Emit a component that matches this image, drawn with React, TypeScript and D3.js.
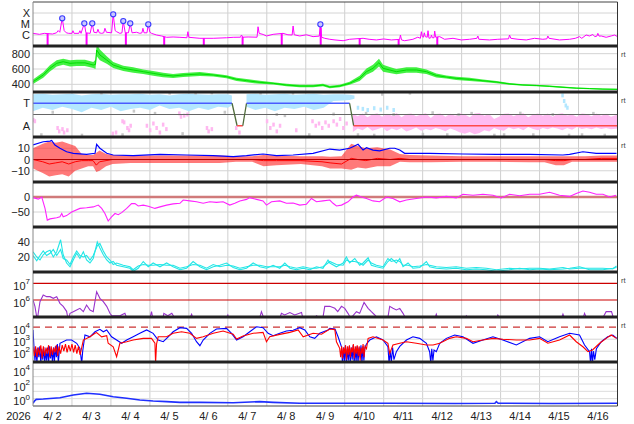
import React from "react";
import * as d3 from "d3";

type P = [number, number];

// ---------------- time axis (hours from 2026-04-02 00:00 UT) ----------------
const yearLabel = "2026";
const dayLabels = ["4/ 2", "4/ 3", "4/ 4", "4/ 5", "4/ 6", "4/ 7", "4/ 8", "4/ 9", "4/10", "4/11", "4/12", "4/13", "4/14", "4/15", "4/16"];
const rtLabel = "rt";

// ---------------- panel 1: X-ray flux (log10 W/m2) ----------------
const xrayFlux: P[] = [
  [0, -5.85], [4, -5.94], [7, -5.85], [12, -5.91], [14.5, -5.8], [15.5, -5.6], [16.5, -5.75], [18, -4.48], [19.2, -5.6], [20.5, -5.8],
  [22, -5.85], [24, -5.85], [24.6, -5.61], [25.3, -5.85], [28.2, -5.85], [28.9, -5.61], [29.6, -5.85], [31.6, -4.94], [32.6, -5.8], [35.2, -5.85],
  [36.5, -4.94], [37.5, -5.75], [39.3, -5.8], [40, -5.48], [40.8, -5.8], [42.3, -5.85], [43.6, -5.8], [44.3, -5.39], [45.2, -5.75], [48.4, -5.8],
  [49.4, -4.12], [50.6, -5.6], [51.5, -5.7], [53.5, -5.85], [54.8, -5.8], [55.6, -4.73], [56.8, -5.8], [58.8, -5.8], [59.9, -4.94], [61, -5.8],
  [63.8, -5.75], [65.8, -5.85], [67.1, -5.8], [67.7, -5.39], [68.4, -5.8], [70.2, -5.8], [71, -5.03], [72, -5.75], [73, -5.85], [76.1, -6.0],
  [79.2, -6.09], [82.3, -6.21], [86.3, -6.18], [90.5, -6.21], [94.8, -6.25], [95.4, -5.7], [96, -6.21], [102.8, -6.3], [111, -6.3], [119.2, -6.25],
  [123.3, -6.21], [127.8, -6.2], [128.4, -6.0], [129.2, -6.2], [132.5, -6.18], [138, -6.2], [138.6, -5.25], [139.3, -5.85], [141.7, -5.95], [143.8, -6.09],
  [147.9, -5.94], [154, -5.85], [157, -5.98], [159.6, -6.0], [160.2, -5.18], [160.9, -5.98], [164.3, -6.09], [168.4, -5.98], [172.5, -6.15], [176.3, -6.1],
  [177, -5.03], [177.8, -6.21], [179.7, -6.3], [182.8, -6.39], [186, -6.45], [191, -6.52], [195, -6.39], [203.3, -6.3], [207, -6.39], [211.5, -6.45],
  [216, -6.36], [220.7, -6.45], [225.8, -6.4], [226.3, -6.0], [227, -6.45], [228.9, -6.52], [234, -6.39], [237, -6.2], [238.6, -6.3], [239.2, -5.7],
  [239.8, -6.15], [240.5, -6.2], [241, -5.8], [241.6, -6.15], [242.8, -6.2], [243.3, -5.61], [243.9, -6.3], [245, -6.25], [245.4, -6.0], [246, -6.25],
  [247, -6.25], [247.4, -5.64], [248, -6.2], [250.5, -6.15], [253.5, -6.39], [258.7, -6.3], [263.8, -6.45], [268.9, -6.39], [273.4, -6.3], [274, -6.09],
  [274.6, -6.39], [281.2, -6.45], [286.3, -6.39], [292.9, -6.35], [293.5, -6.0], [294.3, -6.3], [298.7, -6.39], [303.8, -6.45], [308.9, -6.3], [314, -6.39],
  [316.5, -6.35], [317.1, -6.09], [317.8, -6.3], [324.3, -6.45], [330.5, -6.39], [334, -6.3], [336.6, -6.15], [338, -6.3], [340.7, -6.0], [342.8, -6.09],
  [344.8, -5.95], [346, -6.15], [347.3, -6.1], [347.9, -5.85], [348.6, -6.1], [350, -6.09], [353, -6.21], [356.1, -6.09], [358.2, -6.0], [360, -6.15],
];
const xrayGapH = [9, 33, 57.2, 80.8, 105.2, 129.1, 153.2, 177.2, 201.2, 225.2, 249];
const flareH = [18, 31.6, 36.5, 49.4, 55.6, 59.9, 71, 177];
const flareV = [-4.48, -4.94, -4.94, -4.12, -4.73, -4.94, -5.03, -5.03];
const xrayTicks = [-4, -5, -6];
const xrayTickLabels = ["X", "M", "C"];

// ---------------- panel 2: solar wind speed (km/s) ----------------
const speedH = [0, 6.3, 10.4, 14.6, 18.6, 22.8, 26.9, 32, 37.1, 38.5, 39.2, 41.2, 45.4, 49.4, 55.6, 61.7, 67.9, 74, 80.2, 86.3,
  92.5, 102.8, 111, 119.2, 125.4, 131.5, 139.7, 147.9, 156.1, 164.3, 172.5, 178.6, 182.8, 188.9, 195, 201.2, 205.4, 209.4, 213.1, 215.6,
  219.7, 223.8, 230, 236.1, 242.3, 248.4, 254.6, 260.7, 268.9, 277.1, 285.4, 293.5, 301.7, 309.9, 318, 326.4, 334.6, 342.8, 351, 360];
const speedV = [434, 522, 609, 674, 695, 674, 680, 680, 652, 660, 848, 783, 717, 652, 609, 587, 565, 543, 522, 509,
  522, 535, 522, 500, 465, 448, 426, 413, 391, 378, 378, 391, 365, 378, 413, 478, 565, 609, 683, 609,
  587, 565, 587, 587, 565, 515, 495, 478, 465, 447, 430, 405, 392, 385, 375, 362, 350, 345, 338, 335];
const speedSpread = [30, 35, 40, 40, 40, 40, 40, 40, 40, 60, 80, 70, 50, 40, 35, 35, 30, 30, 30, 25,
  25, 25, 20, 20, 20, 20, 20, 15, 15, 15, 15, 15, 15, 15, 20, 35, 40, 45, 50, 45,
  40, 35, 35, 35, 30, 25, 20, 20, 20, 15, 15, 12, 10, 10, 10, 10, 8, 8, 8, 8];
const speedTicks = [800, 600, 400];

// ---------------- panel 3: IMF sector (T = +0.5, A = -0.5) ----------------
const sectorH = [0, 122.6, 125.7, 129.2, 131.5, 195, 197.5, 360];
const sectorV = [0.5, 0.5, -0.5, -0.5, 0.5, 0.5, -0.5, -0.5];
const towardH1 = [0, 6, 12, 18, 24, 30, 36, 42, 48, 54, 60, 66, 72, 78, 84, 90, 96, 102, 108, 114, 120, 122.5];
const towardLo1 = [0.15, 0.3, 0.2, 0.35, 0.25, 0.1, 0.3, 0.2, 0.35, 0.15, 0.25, 0.3, 0.2, 0.4, 0.25, 0.3, 0.15, 0.3, 0.2, 0.35, 0.3, 0.4];
const towardHi1 = [0.9, 0.92, 0.88, 0.9, 0.92, 0.85, 0.9, 0.92, 0.88, 0.9, 0.9, 0.92, 0.88, 0.9, 0.85, 0.9, 0.92, 0.9, 0.88, 0.9, 0.9, 0.85];
const towardH2 = [131.5, 137, 143, 149, 155, 161, 167, 173, 179, 185, 191, 195, 198];
const towardLo2 = [0.35, 0.2, 0.3, 0.15, 0.3, 0.25, 0.35, 0.2, 0.3, 0.6, 0.62, 0.65, 0.7];
const towardHi2 = [0.9, 0.92, 0.88, 0.9, 0.92, 0.88, 0.9, 0.92, 0.88, 0.9, 0.9, 0.88, 0.85];
const awayH = [197, 200, 203, 206, 209, 212, 215, 218, 221, 224, 227, 230, 233, 236, 239, 242, 245, 248, 251, 254,
  257, 260, 263, 266, 269, 272, 275, 278, 281, 284, 287, 290, 293, 296, 299, 302, 305, 308, 311, 314,
  317, 320, 323, 326, 329, 332, 335, 338, 341, 344, 347, 350, 353, 356, 360];
const awayHi = [0.02, -0.08, 0.05, -0.12, 0.0, 0.06, -0.1, 0.03, -0.05, 0.07, -0.12, 0.02, 0.05, -0.08, 0.0, 0.06, -0.15, 0.02, 0.05, -0.1,
  0.03, -0.06, 0.06, 0.0, -0.12, 0.04, 0.07, -0.05, 0.02, -0.2, -0.1, 0.03, 0.05, -0.08, 0.02, 0.06, -0.12, 0.0, 0.04, -0.06,
  0.05, -0.1, 0.02, 0.06, -0.04, 0.0, -0.1, 0.05, 0.02, -0.08, 0.04, -0.05, 0.03, -0.1, 0.0];
const awayLo = [-0.78, -0.62, -0.7, -0.55, -0.72, -0.66, -0.58, -0.74, -0.62, -0.7, -0.6, -0.76, -0.68, -0.58, -0.72, -0.64, -0.7, -0.6, -0.66, -0.74,
  -0.62, -0.7, -0.8, -0.86, -0.78, -0.88, -0.82, -0.7, -0.75, -0.6, -0.68, -0.72, -0.58, -0.66, -0.6, -0.7, -0.56, -0.64, -0.7, -0.6,
  -0.66, -0.58, -0.62, -0.7, -0.6, -0.68, -0.56, -0.64, -0.6, -0.66, -0.58, -0.64, -0.6, -0.66, -0.62];
const pinkDotH = [0, 1, 15, 16, 18, 19, 21, 49, 51, 55, 56, 58, 59, 60, 70, 72, 74, 76, 78, 80, 82, 90, 91, 93, 95, 107, 108, 110, 125, 127,
  144, 146, 148, 150, 152, 162, 172, 174, 176, 178, 180, 182, 185, 187, 189, 191, 193];
const pinkDotV = [-0.24, -0.3, -0.6, -0.75, -0.65, -0.8, -0.7, -0.85, -0.8, -0.3, -0.35, -0.6, -0.7, -0.5, -0.5, -0.7, -0.4, -0.6, -0.8, -0.45,
  -0.65, 0.05, -0.1, -0.05, 0.0, -0.6, -0.75, -0.65, -0.6, -0.8, -0.3, -0.6, -0.45, -0.75, -0.5, -0.7, -0.3, -0.5, -0.4, -0.6,
  -0.35, -0.5, -0.3, -0.45, -0.2, -0.6, -0.4];
const grayDotH = [5, 12, 30, 42, 55, 62, 75, 84, 92, 100, 110, 118, 140, 150, 155, 160, 170, 185, 200, 205,
  210, 215, 222, 232, 240, 246, 255, 262, 270, 284, 290, 300, 308, 320, 330, 338, 345, 352];
const grayDotV = [-0.9, 0.1, -0.92, 0.95, -0.9, 0.15, 0.05, 0.95, -0.85, 0.95, 0.96, 0.1, 0.95, 0.0, -0.05, 0.95, -0.9, 0.02, -0.9, 0.05,
  -0.92, 0.9, 0.0, 0.95, -0.88, 0.08, -0.9, 0.0, 0.05, -0.92, -0.9, 0.06, -0.9, 0.0, -0.92, -0.9, 0.05, -0.92];
const blueDotH = [200, 203, 206, 210, 214, 218, 222, 326, 327, 328, 329];
const blueDotV = [0.3, 0.25, 0.2, 0.28, 0.22, 0.3, 0.2, 0.85, 0.6, 0.4, 0.3];
const sectorTicks = [0.5, -0.5];
const sectorTickLabels = ["T", "A"];

// ---------------- panel 4: IMF Bt / Bz (nT) ----------------
const btH = [0, 6.3, 10.5, 11.5, 13.5, 16.6, 20.7, 24.8, 33, 38.2, 39.2, 41.2, 45.4, 49.4, 61.7, 78.2, 94.6, 111, 123.3, 131.5,
  141.7, 150, 160.2, 172.5, 182.8, 188.9, 195, 197.1, 200.2, 203.3, 205.4, 209.4, 213.5, 219.7, 222.8, 225.9, 228.9, 244.3, 264.8, 285.4,
  305.9, 326.4, 330.5, 338.7, 346.9, 359.4];
const btV = [12.9, 15.8, 16.4, 17, 12.9, 10, 6.9, 5.5, 4.6, 5.5, 13.5, 10, 5.5, 4, 3.4, 4.6, 4, 3.4, 2.5, 3.4,
  4.9, 3.4, 4, 5.5, 9.3, 8.4, 10, 11.4, 13.5, 8.4, 10.5, 8.4, 7.6, 10, 10, 8.4, 5.5, 5.5, 4.9, 4.6,
  4.6, 4, 4.6, 6.9, 5.5, 5.5];
const bzH = [0, 6, 10, 14, 18, 22, 26, 30, 34, 37, 39, 41, 45, 49, 60, 80, 100, 115, 125, 135, 142, 150, 165, 178, 183, 190,
  196, 200, 205, 212, 220, 226, 232, 245, 264, 285, 306, 315, 322, 327, 332, 340, 350, 360];
const bzMid = [0, -2, -4, -3, -2, -4, -2, -1, -1, -1, -5, -2, -1, 0, 0, 0, 0, 0, 0, 0, -1, -1, -1, -2, -3, -4,
  1, 0, -1, 1, 0, 1, 0, 0, 0, 0, 0, 0, -1, -1, 0, 0, 1, 1];
const bzHi = [10, 14, 16, 15, 16, 14, 12, 5, 4, 4, 6, 8, 5, 4, 3.5, 3.5, 3.5, 3.5, 3, 3, 4, 3.5, 3, 3, 2.5, 3,
  14, 12, 10, 11, 9, 5, 4, 3.5, 3, 3, 3, 3, 3, 3, 3, 3, 3.5, 3.5];
const bzLo = [-8, -12, -15, -14, -13, -15, -10, -8, -6, -6, -11, -10, -6, -4, -3, -3, -3, -3, -2, -2, -6, -5, -4, -6, -8, -8,
  -9, -7, -8, -6, -6, -2, -2.5, -2.5, -2, -2, -2.5, -2.5, -5, -5, -2, -2, -2, -2];
const imfTicks = [10, 0, -10];

// ---------------- panel 5: Dst (nT) ----------------
const dstH = [0, 3.3, 5.4, 7.4, 8.8, 10.5, 14.6, 16.6, 17.7, 18.6, 20.7, 23.8, 28.9, 33, 37.1, 40.2, 42.3, 44.3, 46.3, 48.4,
  50.5, 52.5, 54.6, 57.7, 60.7, 62.8, 64.8, 67.9, 71, 75.1, 78.2, 82.3, 86.3, 90.5, 92.5, 96.6, 100.7, 104.8, 108.9, 113,
  117.1, 121.2, 124.3, 127.4, 131.5, 133.5, 137.7, 141.7, 143.8, 146.9, 152, 156.1, 160.2, 164.3, 168.4, 171.5, 174.6, 178.6, 182.8,
  184.8, 186.9, 190, 194, 197.1, 199.2, 202.3, 205.4, 209.4, 213.5, 217.7, 221.7, 225.9, 230, 236.1, 242.3, 248.4, 254.6, 260.7, 264.8,
  271, 277.1, 283.3, 288.4, 293.5, 299.7, 305.9, 312, 318.2, 324.3, 330.5, 334.6, 338.7, 342.8, 346.9, 351, 355.1, 359.2];
const dstV = [-2, -7, 0, -38, -77, -73, -69, -66, -55, -66, -62, -50, -38, -36, -33, -27, -38, -55, -80, -66,
  -55, -59, -52, -38, -22, -22, -30, -27, -31, -38, -33, -27, -23, -21, -10, -13, -16, -21, -16, -18,
  -16, -27, -21, -13, -8, -2, -8, -13, -27, -16, -13, -21, -20, -27, -24, -5, -16, -13, -10,
  -21, -30, -27, -16, 0, 6, 0, -5, -13, -16, 0, -5, -16, -10, -5, 0, -3, 2, -3, 9,
  6, 9, 6, -3, 9, 4, 9, 9, 16, 6, 2, 12, 20, 16, 9, 9, 0, 6];
const dstTicks = [0, -50];

// ---------------- panel 6: cyan pair ----------------
const cyanH = [0, 2.3, 4.3, 6.3, 8.4, 10.5, 12.5, 14.6, 17, 18.6, 20.7, 22.8, 24.8, 26.9, 28.9, 31, 33, 35.1, 37.1, 39.6,
  41.2, 43.3, 45.4, 47.4, 49.4, 51.5, 55.6, 59.7, 61.7, 64.8, 67.9, 71, 74, 78.2, 82.3, 86.3, 90.5, 94.6, 98.6, 102.8,
  106.9, 111, 115.1, 119.2, 123.3, 127.4, 131.5, 135.6, 139.7, 143.8, 147.9, 152, 155.1, 158.2, 162.3, 166.3, 170.5, 174.6, 178.6, 181.7,
  182.8, 186.9, 191, 193, 195, 198.2, 201.2, 203.3, 206.4, 208.4, 211.5, 215.6, 218.6, 220.7, 223.8, 225.9, 227.9, 231, 234, 238.2,
  242.3, 244.3, 248.4, 254.6, 260.7, 266.9, 273, 279.2, 285.4, 293.5, 299.7, 305.9, 312, 318.2, 326.4, 330.5, 336.6, 342.8, 351, 357.1, 359.4];
const cyanA = [27, 20, 16, 23, 27, 29, 20, 27, 43, 23, 12, 7, 16, 25, 18, 27, 16, 12, 18, 40,
  32, 23, 16, 12, 14, 9, 7, 5, 1, 5, 14, 7, 12, 7, 12, 7, 3, 5, 14, 7,
  3, 7, 9, 12, 6, 3, 5, 12, 7, 5, 9, 5, 12, 5, 3, 5, 3, 7, 5, 16,
  12, 7, 12, 20, 12, 18, 9, 12, 19, 9, 7, 5, 14, 18, 12, 18, 7, 12, 5, 6,
  14, 7, 5, 4, 5, 3, 4, 3, 1, 3, 5, 3, 4, 3, 4, 5, 7, 3, 3, 5, 6];
const cyanB = [22, 15, 22, 28, 22, 25, 30, 22, 30, 18, 16, 10, 20, 28, 22, 20, 22, 16, 22, 35,
  38, 28, 20, 16, 10, 12, 9, 7, 3, 8, 10, 9, 9, 10, 9, 9, 5, 7, 10, 9,
  5, 10, 7, 9, 8, 5, 7, 9, 9, 7, 7, 7, 9, 7, 5, 7, 5, 5, 7, 12,
  14, 10, 9, 16, 14, 14, 12, 9, 16, 12, 9, 7, 18, 14, 16, 14, 9, 9, 7, 8,
  10, 9, 7, 6, 7, 5, 6, 5, 3, 5, 4, 5, 5, 4, 6, 4, 5, 5, 5, 4, 8];
const cyanTicks = [40, 20];

// ---------------- panel 7: electron flux (log10) ----------------
const elecFlux: P[] = [
  [0, 6.0], [1.2, 5.62], [2.6, 4.8], [4.3, 5.9], [6.3, 6.3], [8.4, 6.2], [10.5, 6.2], [12.5, 6.1], [14.6, 6.2], [16.6, 5.8],
  [18.6, 5.62], [20.7, 5.32], [21.7, 4.8], [22.8, 5.2], [24.8, 5.3], [26.9, 5.4], [28.9, 5.5], [31, 5.3], [33, 5.7], [35.1, 5.4],
  [37.1, 5.3], [39.2, 6.5], [40.2, 6.3], [41.2, 6.1], [43.3, 5.9], [45.4, 5.62], [47.4, 5.2], [48.6, 5.05], [53.5, 5.05], [56.6, 5.2],
  [57.8, 4.9], [72, 4.9], [73, 5.3], [73.8, 4.9], [80, 4.9], [80.6, 5.2], [83, 5.05], [85.5, 5.2], [87.4, 4.9], [96.5, 4.9],
  [97.7, 5.15], [98.5, 4.9], [119, 4.9], [120, 5.1], [120.6, 4.9], [139.5, 4.9], [140.7, 5.3], [142.2, 4.9], [152, 4.9], [153, 5.2],
  [155, 5.1], [158.2, 5.25], [161.2, 5.1], [165.4, 5.25], [166.2, 4.9], [173.5, 4.9], [174.6, 5.05], [176.6, 4.9], [178.5, 4.9], [179.7, 5.62],
  [182.8, 5.62], [185.9, 5.5], [187.7, 5.3], [190, 5.62], [192, 5.5], [194, 5.2], [195.7, 4.9], [199.2, 5.3], [201.2, 5.2], [203.9, 5.85],
  [206.4, 5.5], [208.4, 5.3], [210.5, 5.1], [212.3, 4.9], [218.5, 4.9], [219.7, 5.62], [221.7, 5.5], [223.8, 5.4], [225.9, 5.5], [227.9, 5.2],
  [229.5, 4.9], [247.5, 4.9], [248.4, 5.15], [249.2, 4.9], [266, 4.9], [266.9, 5.05], [267.7, 4.9], [285.5, 4.9], [286.3, 5.1], [287.4, 4.9],
  [325.5, 4.9], [326.4, 5.15], [327.4, 4.9], [338.8, 4.9], [339.7, 5.2], [341, 4.9], [350.8, 4.9], [353, 5.3], [356.3, 5.3], [357.6, 4.9], [360, 4.9],
];
const elecRefLines = [7, 6];
const elecTicks = [7, 6];

// ---------------- panel 8: pair (log10) ----------------
const pairBlue: P[] = [
  [0, 3.77], [0.6, 2.37], [1.2, 1.2], [1.8, 2.2], [2.4, 1.0], [3, 2.3], [3.6, 1.5], [4.2, 2.4], [4.8, 1.0], [5.4, 2.2],
  [6, 1.3], [6.6, 2.35], [7.2, 1.0], [7.8, 2.0], [8.4, 1.2], [9, 2.3], [9.6, 1.0], [10.2, 2.4], [10.8, 1.4], [11.4, 2.2],
  [12, 1.0], [12.6, 2.3], [13.2, 1.1], [13.8, 2.4], [14.4, 1.5], [15, 2.6], [15.6, 1.0], [16.6, 2.66], [20.7, 2.93], [23.8, 2.93],
  [26.9, 2.66], [28.9, 2.24], [30, 1.0], [30.6, 2.0], [32, 3.35], [35.1, 3.2], [38.2, 3.62], [41.2, 3.82], [43.3, 3.62], [45.4, 3.77],
  [48.4, 3.2], [51.5, 2.93], [54.6, 2.66], [57.7, 2.93], [61.7, 3.2], [65.8, 3.49], [70, 3.77], [74, 3.49], [77.1, 2.93], [80.2, 2.79],
  [83.3, 3.2], [86.3, 3.62], [90.5, 3.96], [94.6, 3.9], [97.7, 3.49], [100.7, 2.79], [102.8, 2.46], [104.8, 2.93], [108.9, 3.49], [113, 3.85],
  [119.2, 3.9], [122.3, 3.49], [125.4, 2.93], [129.4, 3.2], [133.5, 3.62], [137.7, 4.04], [141.7, 3.96], [144.8, 3.49], [147.9, 3.29], [152, 3.49],
  [156.1, 3.68], [160.2, 3.75], [164.3, 3.96], [167.4, 3.77], [170.5, 3.2], [173.5, 3.07], [176.6, 3.49], [181.7, 3.77], [182.8, 3.9], [186, 3.85],
  [187.9, 3.2], [190, 2.37], [190.6, 1.0], [191.2, 2.3], [191.8, 1.1], [192.4, 2.5], [193, 1.0], [193.6, 2.2], [194.2, 1.2], [194.8, 2.4],
  [195.4, 1.0], [196, 2.3], [196.6, 1.3], [197.2, 2.5], [197.8, 1.0], [198.4, 2.2], [199, 1.1], [199.6, 2.4], [200.2, 1.0], [200.8, 2.3],
  [201.4, 1.5], [202, 2.5], [202.6, 1.0], [203.2, 2.4], [203.8, 1.2], [204.4, 2.3], [205.4, 2.6], [207.4, 2.93], [211.5, 3.2], [215.6, 2.93],
  [218.6, 2.37], [219.3, 1.0], [220, 2.0], [220.7, 1.1], [221.5, 2.3], [222.3, 1.3], [223.8, 1.96], [225.9, 2.4], [230, 2.93], [234, 3.2],
  [238.2, 3.07], [242.3, 2.66], [244.3, 1.96], [245, 1.0], [245.6, 2.2], [246.3, 1.2], [247, 2.1], [248.4, 1.96], [250.5, 2.66], [254.6, 3.07],
  [259.7, 3.35], [264.8, 3.2], [271, 2.66], [277.1, 2.93], [283.3, 3.2], [289.4, 2.93], [297.7, 2.52], [305.9, 3.07], [312, 3.2], [317.1, 2.79],
  [324.3, 3.2], [330.5, 3.49], [336.6, 3.35], [339.7, 2.52], [342.8, 1.96], [343.4, 1.0], [344, 2.2], [344.6, 1.0], [345.2, 2.0], [346, 1.3],
  [347, 2.2], [350, 2.79], [354, 3.2], [357.1, 3.35], [359.6, 3.07],
];
const pairRed: P[] = [
  [0, 2.37], [0.8, 1.6], [1.6, 2.4], [2.4, 1.5], [3.2, 2.3], [4, 1.7], [4.8, 2.5], [5.6, 1.4], [6.4, 2.4], [7.2, 1.6],
  [8, 2.3], [8.8, 1.8], [9.6, 2.5], [10.4, 1.5], [11.2, 2.4], [12, 1.7], [12.8, 2.3], [13.6, 1.9], [14.4, 2.5], [15.2, 1.6],
  [16, 2.4], [17, 1.8], [18, 2.5], [19, 2.0], [20, 2.6], [21, 1.9], [22, 2.5], [23, 2.0], [24, 2.6], [25, 1.9],
  [26, 2.5], [27, 1.8], [28, 2.4], [29, 1.7], [30, 2.3], [31, 2.93], [35.1, 3.2], [38.2, 3.49], [39.2, 3.55], [42.3, 3.2],
  [45.4, 3.3], [46.3, 2.66], [49.4, 2.37], [51.5, 1.54], [53.5, 2.66], [57.7, 2.79], [61.7, 2.93], [67.9, 3.07], [73, 3.07], [75.1, 2.66],
  [75.5, 1.0], [76.1, 2.6], [77.1, 3.2], [82.3, 3.2], [86.3, 3.49], [91.5, 3.62], [96.6, 3.49], [100.7, 3.07], [104.8, 3.2], [111, 3.49],
  [117.1, 3.68], [123.3, 3.41], [125.4, 3.02], [129.4, 3.27], [135.6, 3.49], [141.7, 3.57], [143.8, 2.79], [145.8, 3.2], [152, 3.4], [158.2, 3.57],
  [163.3, 3.77], [166.4, 3.2], [172.5, 3.49], [177.7, 3.41], [182.8, 3.85], [185.9, 3.8], [186.9, 2.79], [188.9, 2.24], [189.5, 1.5], [190.1, 2.4],
  [190.7, 1.4], [191.3, 2.3], [191.9, 1.8], [192.5, 2.5], [193.1, 1.3], [193.7, 2.4], [194.3, 1.7], [194.9, 2.5], [195.5, 1.5], [196.1, 2.3],
  [196.7, 1.9], [197.3, 2.6], [197.9, 1.4], [198.5, 2.4], [199.1, 1.8], [199.7, 2.5], [200.3, 1.6], [200.9, 2.4], [201.5, 1.2], [202.1, 2.3],
  [202.7, 1.8], [203.3, 2.6], [203.9, 1.5], [204.5, 2.4], [205.4, 2.2], [206.4, 3.07], [209.4, 3.2], [215.6, 2.93], [218.6, 2.66], [219.7, 1.82],
  [221.7, 2.52], [225.9, 2.66], [230, 2.79], [236.1, 2.66], [242.3, 2.52], [246.4, 2.52], [250.5, 2.66], [256.6, 3.07], [260.7, 3.2], [266.9, 3.07],
  [271, 2.79], [277.1, 2.93], [283.3, 3.07], [289.4, 3.0], [297.7, 2.93], [305.9, 2.93], [312, 3.07], [317.1, 2.66], [324.3, 2.93], [330.5, 3.35],
  [334.6, 2.79], [338.7, 2.37], [341.8, 1.96], [344.6, 2.1], [349, 2.66], [353, 3.07], [356.1, 3.35], [359.4, 3.07],
];
const pairThreshold = 4;
const pairTicks = [4, 3, 2];

// ---------------- panel 9: low-level flux (log10) ----------------
const lowH = [0, 1, 2, 6.3, 16.6, 24.8, 33, 41.2, 49.4, 57.7, 65.8, 74, 82.3, 90.5, 102.8, 123.3, 139.7, 147.9, 164.3, 182.8,
  220, 260, 284.5, 285.4, 286.5, 320, 360];
const lowV = [-0.63, -0.3, -0.1, -0.05, 0.13, 0.5, 0.73, 0.6, 0.27, 0.05, -0.18, -0.32, -0.41, -0.5, -0.5, -0.55, -0.41, -0.5, -0.63, -0.63,
  -0.63, -0.65, -0.63, -0.4, -0.63, -0.65, -0.63];
const lowTicks = [4, 2, 0];

// ---------------------------------------------------------------------------
const FONT = "'Liberation Sans', Arial, Helvetica, sans-serif";

export default function App() {
  const L = 33;
  const R = 617.5;
  const tops = [2, 46, 92, 137, 182, 227, 272, 317, 362];
  const bottomY = 406;
  const x = d3.scaleLinear().domain([0, 360]).range([L, R]);

  const yXr = d3.scaleLinear().domain([-7, -3]).range([46, 2]);
  const ySw = d3.scaleLinear().domain([300, 900]).range([92, 46]);
  const ySec = d3.scaleLinear().domain([-1, 1]).range([137, 92]);
  const yImf = d3.scaleLinear().domain([-20, 20]).range([182, 137]);
  const yDst = d3.scaleLinear().domain([-100, 50]).range([227, 182]);
  const yCy = d3.scaleLinear().domain([0, 60]).range([272, 227]);
  const yEl = d3.scaleLinear().domain([4.98, 7.68]).range([317, 272]);
  const yPr = d3.scaleLinear().domain([1.1, 4.85]).range([362, 317]);
  const yLo = d3.scaleLinear().domain([-1, 5]).range([406, 362]);

  const zip = (h: number[], v: number[]): P[] => h.map((t, i) => [t, v[i]] as P);
  const linePath = (ys: d3.ScaleLinear<number, number>, pts: P[]) =>
    d3.line<P>().x((d) => x(d[0])).y((d) => ys(d[1]))(pts) ?? "";
  const bandPath = (ys: d3.ScaleLinear<number, number>, h: number[], lo: number[], hi: number[]) =>
    d3.area<number>().x((t) => x(t)).y0((_, i) => ys(lo[i])).y1((_, i) => ys(hi[i]))(h) ?? "";

  const xrayAt = d3.scaleLinear().domain(xrayFlux.map((d) => d[0])).range(xrayFlux.map((d) => d[1]));
  const midnights = d3.range(24, 360, 24);

  const leftLabel = (y: number, text: string, key: string) => (
    <text key={key} x={30} y={y} textAnchor="end" dominantBaseline="central" fontSize={11} fill="#222" fontFamily={FONT}>
      {text}
    </text>
  );
  const supLabel = (y: number, exp: number, key: string) => (
    <text key={key} x={30} y={y + 2.5} textAnchor="end" dominantBaseline="central" fontSize={11} fill="#222" fontFamily={FONT}>
      10<tspan fontSize={8} dy={-4.5}>{exp}</tspan>
    </text>
  );
  const hGrid = (ys: d3.ScaleLinear<number, number>, vals: number[], key: string, color = "#d4d4d4") =>
    vals.map((v, i) => <line key={key + i} x1={L} x2={R} y1={ys(v)} y2={ys(v)} stroke={color} strokeWidth={1} />);

  const speedLo = speedV.map((v, i) => v - speedSpread[i]);
  const speedHi = speedV.map((v, i) => v + speedSpread[i]);

  const sectorSegs = sectorH.slice(1).map((t, i) => {
    const a = sectorV[i];
    const b = sectorV[i + 1];
    const color = a !== b ? "#4f6a3a" : a > 0 ? "#4a5cff" : "#ff4a4a";
    return { d: linePath(ySec, [[sectorH[i], a], [t, b]]), color };
  });

  return (
    <svg width={634} height={424} style={{ position: "absolute", left: 0, top: 0, background: "#fff" }}>
      <defs>
        {tops.map((t, i) => (
          <clipPath id={"clip" + i} key={i}>
            <rect x={L} y={t} width={R - L} height={(tops[i + 1] ?? bottomY) - t} />
          </clipPath>
        ))}
      </defs>
      <rect x={0} y={0} width={634} height={424} fill="#fff" />

      {/* vertical day grid */}
      {midnights.map((h) => (
        <line key={"vg" + h} x1={x(h)} x2={x(h)} y1={2} y2={bottomY} stroke="#cfcfcf" strokeWidth={1} />
      ))}

      {/* horizontal grids */}
      {hGrid(yXr, xrayTicks, "gx")}
      {hGrid(ySw, speedTicks, "gs")}
      {hGrid(yImf, [10, -10], "gi")}
      {hGrid(yDst, [-50], "gd")}
      {hGrid(yCy, cyanTicks, "gc")}
      {hGrid(yPr, [3, 2], "gp")}
      {hGrid(yLo, [0, 1, 2, 3, 4], "gl", "#dcdcdc")}

      {/* panel 1: X-ray */}
      <g clipPath="url(#clip0)">
        {xrayGapH.map((h) => (
          <line key={"gap" + h} x1={x(h)} x2={x(h)} y1={yXr(xrayAt(h))} y2={48} stroke="#ff00ff" strokeWidth={2} />
        ))}
        <path d={linePath(yXr, xrayFlux)} fill="none" stroke="#ff00ff" strokeWidth={1} />
        {flareH.map((h, i) => (
          <circle key={"fl" + i} cx={x(h)} cy={yXr(flareV[i])} r={2.6} fill="#c8c8ff" stroke="#3a3aff" strokeWidth={1.1} />
        ))}
      </g>

      {/* panel 2: solar wind speed */}
      <g clipPath="url(#clip1)">
        <path d={bandPath(ySw, speedH, speedLo, speedHi)} fill="#22ee22" opacity={0.85} />
        <path d={linePath(ySw, zip(speedH, speedV))} fill="none" stroke="#00dd00" strokeWidth={1} />
      </g>

      {/* panel 3: IMF sector */}
      <g clipPath="url(#clip2)">
        <path d={bandPath(ySec, towardH1, towardLo1, towardHi1)} fill="#b3e7ff" />
        <path d={bandPath(ySec, towardH2, towardLo2, towardHi2)} fill="#b3e7ff" />
        <path d={bandPath(ySec, awayH, awayLo, awayHi)} fill="#ffbcf2" />
        {pinkDotH.map((h, i) => (
          <rect key={"pd" + i} x={x(h) - 1} y={ySec(pinkDotV[i]) - 2} width={2.5} height={4} fill="#ffb8f0" />
        ))}
        {blueDotH.map((h, i) => (
          <rect key={"bd" + i} x={x(h) - 1} y={ySec(blueDotV[i]) - 2} width={2.5} height={4} fill="#b3e7ff" />
        ))}
        {grayDotH.map((h, i) => (
          <rect key={"gd" + i} x={x(h) - 1} y={ySec(grayDotV[i]) - 1.5} width={2.5} height={3} fill="#c8c8c8" />
        ))}
        <line x1={L} x2={R} y1={ySec(0)} y2={ySec(0)} stroke="#666" strokeWidth={1} />
        {sectorSegs.map((s, i) => (
          <path key={"sg" + i} d={s.d} fill="none" stroke={s.color} strokeWidth={1.3} />
        ))}
      </g>

      {/* panel 4: IMF */}
      <g clipPath="url(#clip3)">
        <path d={bandPath(yImf, bzH, bzLo, bzHi)} fill="#ff2020" opacity={0.6} />
        <path d={linePath(yImf, zip(bzH, bzMid))} fill="none" stroke="#ff0000" strokeWidth={1} />
        <line x1={L} x2={R} y1={yImf(0)} y2={yImf(0)} stroke="#b00000" strokeWidth={1.2} />
        <path d={linePath(yImf, zip(btH, btV))} fill="none" stroke="#0000ff" strokeWidth={1.2} />
      </g>

      {/* panel 5: Dst */}
      <g clipPath="url(#clip4)">
        <line x1={L} x2={R} y1={yDst(0)} y2={yDst(0)} stroke="#d07a7a" strokeWidth={2.5} />
        <path d={linePath(yDst, zip(dstH, dstV))} fill="none" stroke="#ff22ff" strokeWidth={1.1} />
      </g>

      {/* panel 6: cyan pair */}
      <g clipPath="url(#clip5)">
        <path d={linePath(yCy, zip(cyanH, cyanB))} fill="none" stroke="#22e6e6" strokeWidth={1.1} />
        <path d={linePath(yCy, zip(cyanH, cyanA))} fill="none" stroke="#22e6e6" strokeWidth={1.1} />
      </g>

      {/* panel 7: electrons */}
      <g clipPath="url(#clip6)">
        {elecRefLines.map((v) => (
          <line key={"er" + v} x1={L} x2={R} y1={yEl(v)} y2={yEl(v)} stroke="#cc0000" strokeWidth={1.2} />
        ))}
        <path d={linePath(yEl, elecFlux)} fill="none" stroke="#9933cc" strokeWidth={1.1} />
      </g>

      {/* panel 8: pair */}
      <g clipPath="url(#clip7)">
        <line x1={L} x2={R} y1={yPr(pairThreshold)} y2={yPr(pairThreshold)} stroke="#cc3333" strokeWidth={1.2} strokeDasharray="7,5" />
        <path d={linePath(yPr, pairBlue)} fill="none" stroke="#0000ff" strokeWidth={1.1} />
        <path d={linePath(yPr, pairRed)} fill="none" stroke="#ff0000" strokeWidth={1.1} />
      </g>

      {/* panel 9 */}
      <g clipPath="url(#clip8)">
        <path d={linePath(yLo, zip(lowH, lowV))} fill="none" stroke="#1f2fff" strokeWidth={1.6} />
      </g>

      {/* frame */}
      <line x1={L} x2={R} y1={2} y2={2} stroke="#444" strokeWidth={1} />
      <line x1={L} x2={R} y1={bottomY} y2={bottomY} stroke="#444" strokeWidth={1} />
      <line x1={L} x2={L} y1={2} y2={bottomY} stroke="#888" strokeWidth={1} />
      <line x1={R} x2={R} y1={2} y2={bottomY} stroke="#333" strokeWidth={1} />
      {tops.slice(1).map((t) => (
        <line key={"sep" + t} x1={L} x2={R} y1={t} y2={t} stroke="#222" strokeWidth={3} />
      ))}

      {/* left labels */}
      {xrayTicks.map((v, i) => leftLabel(yXr(v), xrayTickLabels[i], "lx" + i))}
      {speedTicks.map((v, i) => leftLabel(ySw(v), String(v), "ls" + i))}
      {sectorTicks.map((v, i) => leftLabel(ySec(v), sectorTickLabels[i], "lsec" + i))}
      {imfTicks.map((v, i) => leftLabel(yImf(v), v < 0 ? "\u2212" + Math.abs(v) : String(v), "li" + i))}
      {dstTicks.map((v, i) => leftLabel(yDst(v), v < 0 ? "\u2212" + Math.abs(v) : String(v), "ld" + i))}
      {cyanTicks.map((v, i) => leftLabel(yCy(v), String(v), "lc" + i))}
      {elecTicks.map((v, i) => supLabel(yEl(v), v, "le" + i))}
      {pairTicks.map((v, i) => supLabel(yPr(v), v, "lp" + i))}
      {lowTicks.map((v, i) => supLabel(yLo(v), v, "ll" + i))}

      {/* right "rt" tags */}
      {[tops[1], tops[2], tops[3], tops[6], tops[7]].map((t, i) => (
        <text key={"rt" + i} x={621} y={t + 11} fontSize={7.5} fill="#444" fontFamily={FONT}>
          {rtLabel}
        </text>
      ))}

      {/* x-axis labels */}
      <text x={18.5} y={416} textAnchor="middle" dominantBaseline="central" fontSize={11} fill="#222" fontFamily={FONT}>
        {yearLabel}
      </text>
      {dayLabels.map((s, i) => (
        <text key={"dl" + i} x={x(12 + 24 * i)} y={416} textAnchor="middle" dominantBaseline="central" fontSize={11} fill="#222" fontFamily={FONT} style={{ whiteSpace: "pre" }}>
          {s}
        </text>
      ))}
    </svg>
  );
}
